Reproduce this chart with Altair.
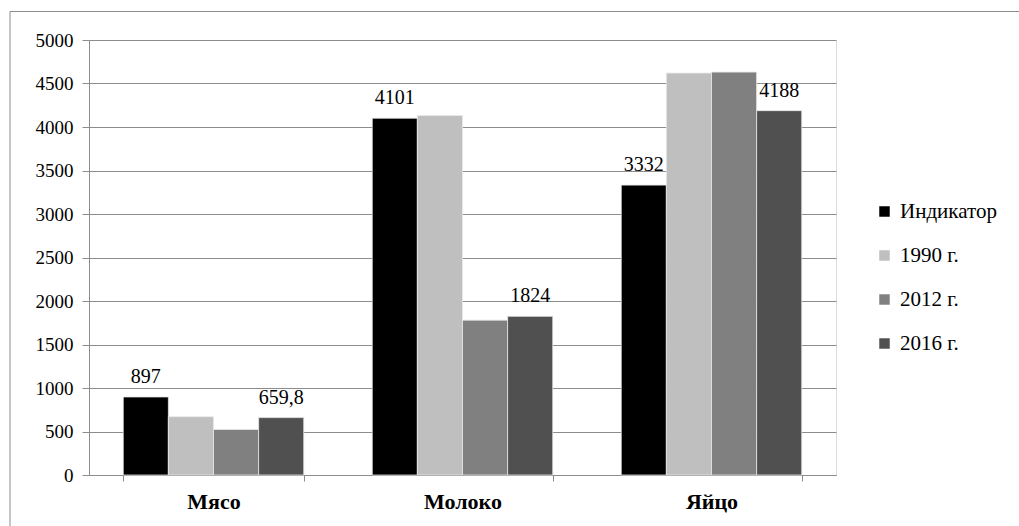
import altair as alt
import pandas as pd

categories = ["Мясо", "Молоко", "Яйцо"]
series = ["Индикатор", "1990 г.", "2012 г.", "2016 г."]
values = {
    "Индикатор": [897, 4101, 3332],
    "1990 г.": [670, 4132, 4620],
    "2012 г.": [523, 1780, 4631],
    "2016 г.": [659.8, 1824, 4188],
}
labelled = ["Индикатор", "2016 г."]
colors = ["#000000", "#bfbfbf", "#808080", "#505050"]
y_ticks = [0, 500, 1000, 1500, 2000, 2500, 3000, 3500, 4000, 4500, 5000]


def fmt(v):
    s = f"{v:g}"
    return s.replace(".", ",")


rows = []
for s in series:
    for c, v in zip(categories, values[s]):
        rows.append({"cat": c, "ser": s, "val": v, "lab": fmt(v) if s in labelled else ""})
df = pd.DataFrame(rows)

FONT = "Liberation Serif"
GRID = "#8c8c8c"

x_enc = alt.X(
    "cat:N",
    sort=categories,
    title=None,
    scale=alt.Scale(paddingInner=0.275, paddingOuter=0.1375),
    axis=alt.Axis(
        labelAngle=0, labelFont=FONT, labelFontSize=22, labelFontWeight="bold",
        labelColor="#000000", labelPadding=10, tickBand="extent", tickSize=6,
        tickColor=GRID, domainColor=GRID, grid=False,
    ),
)
xo_enc = alt.XOffset("ser:N", sort=series, scale=alt.Scale(domain=series, paddingInner=0))
y_enc = alt.Y(
    "val:Q",
    title=None,
    scale=alt.Scale(domain=[0, 5000], nice=False),
    axis=alt.Axis(
        values=y_ticks, format="d", labelFont=FONT, labelFontSize=19,
        labelColor="#000000", labelPadding=9, tickSize=7, tickColor=GRID,
        domainColor=GRID, gridColor=GRID, gridWidth=1,
    ),
)

bars = alt.Chart(df).mark_bar(stroke="#e8e8e8", strokeWidth=0.8).encode(
    x=x_enc,
    xOffset=xo_enc,
    y=y_enc,
    color=alt.Color(
        "ser:N", sort=series, title=None,
        scale=alt.Scale(domain=series, range=colors),
        legend=alt.Legend(
            orient="none", legendX=785, legendY=161, symbolType="square",
            symbolSize=110, symbolStrokeWidth=0, labelFont=FONT, labelFontSize=21,
            labelColor="#000000", rowPadding=22, labelOffset=5,
        ),
    ),
)

texts = alt.Chart(df).transform_filter(alt.datum.lab != "").mark_text(
    font=FONT, fontSize=20, baseline="alphabetic", dy=-14, color="#000000"
).encode(x=x_enc, xOffset=xo_enc, y=y_enc, text="lab:N")

frame = alt.Chart(alt.Data(values=[{}])).mark_rect(
    fill=None, stroke="#8c8c8c", strokeWidth=1
).encode(
    x=alt.value(-79), x2=alt.value(1200), y=alt.value(-28.5), y2=alt.value(700)
)

chart = alt.layer(frame, bars, texts).properties(
    width=747, height=435,
    autosize=alt.AutoSizeParams(type="none"),
    padding={"left": 89, "top": 40, "right": 183, "bottom": 51},
).configure_view(stroke=None).configure(background="white")

chart.save("out.html", embed_options={"renderer": "svg", "actions": False})
